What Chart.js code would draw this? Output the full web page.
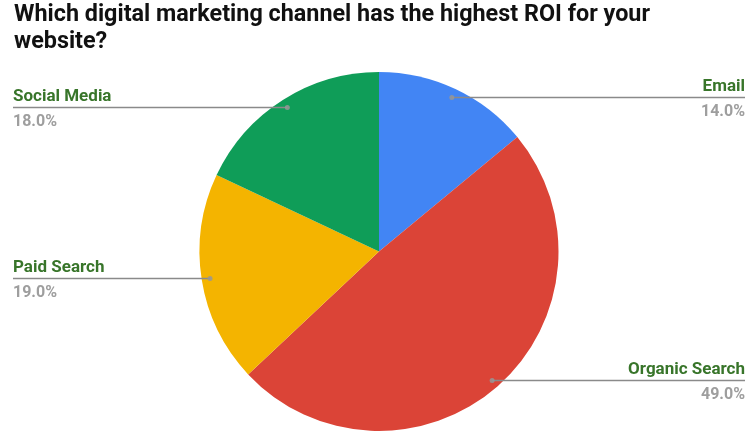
<!DOCTYPE html>
<html>
<head>
<meta charset="utf-8">
<script src="https://cdn.jsdelivr.net/npm/chart.js@4/dist/chart.umd.min.js"></script>
<style>
html,body{margin:0;padding:0;background:#fff;}
#wrap{position:relative;width:752px;height:441px;}
</style>
</head>
<body>
<div id="wrap"><canvas id="c" width="752" height="441"></canvas></div>
<script>
const titleLines = ["Which digital marketing channel has the highest ROI for your", "website?"];
const categories = ["Email", "Organic Search", "Paid Search", "Social Media"];
const values = [14.0, 49.0, 19.0, 18.0];
const colors = ["#4285f4", "#db4437", "#f4b400", "#0f9d58"];

const labelPlugin = {
  id: 'labels',
  afterDraw(chart) {
    const ctx = chart.ctx;
    // title
    ctx.save();
    ctx.fillStyle = '#111111';
    ctx.font = 'bold 24px Roboto, sans-serif';
    ctx.textBaseline = 'alphabetic';
    ctx.textAlign = 'left';
    const targetW = 636;
    const w0 = ctx.measureText(titleLines[0]).width;
    const sx = targetW / w0;
    ctx.translate(14, 0);
    ctx.scale(sx, 1);
    ctx.fillText(titleLines[0], 0, 20.5);
    ctx.fillText(titleLines[1], 0, 47.5);
    ctx.restore();

    const meta = chart.getDatasetMeta(0);
    const total = values.reduce((a, b) => a + b, 0);
    meta.data.forEach((arc, i) => {
      const p = arc.getProps(['x', 'y', 'startAngle', 'endAngle', 'outerRadius'], true);
      const mid = (p.startAngle + p.endAngle) / 2;
      const r = p.outerRadius * 0.953;
      const dx = p.x + Math.cos(mid) * r;
      const dy = p.y + Math.sin(mid) * r;
      const left = Math.cos(mid) < 0;
      const ly = Math.round(dy) + 0.5;
      ctx.save();
      ctx.strokeStyle = '#8a8a8a';
      ctx.lineWidth = 1.5;
      ctx.beginPath();
      if (left) { ctx.moveTo(13, ly); ctx.lineTo(dx, ly); }
      else { ctx.moveTo(dx, ly); ctx.lineTo(745, ly); }
      ctx.stroke();
      ctx.fillStyle = 'rgba(150,150,150,0.85)';
      ctx.beginPath();
      ctx.arc(dx, ly, 2.5, 0, Math.PI * 2);
      ctx.fill();
      ctx.textAlign = left ? 'left' : 'right';
      const tx = left ? 13 : 745;
      ctx.font = 'bold 17px Roboto, sans-serif';
      ctx.fillStyle = '#38752a';
      ctx.fillText(categories[i], tx, ly - 7);
      ctx.font = 'bold 16px Roboto, sans-serif';
      ctx.fillStyle = '#9e9e9e';
      const pct = (values[i] / total * 100).toFixed(1) + '%';
      ctx.fillText(pct, tx, ly + 18);
      ctx.restore();
    });
  }
};

new Chart(document.getElementById('c'), {
  type: 'pie',
  data: {
    labels: categories,
    datasets: [{ data: values, backgroundColor: colors, borderWidth: 0 }]
  },
  options: {
    responsive: false,
    animation: false,
    layout: { padding: { top: 72, bottom: 10, left: 199, right: 193 } },
    plugins: { legend: { display: false }, tooltip: { enabled: false }, title: { display: false } }
  },
  plugins: [labelPlugin]
});
</script>
</body>
</html>
